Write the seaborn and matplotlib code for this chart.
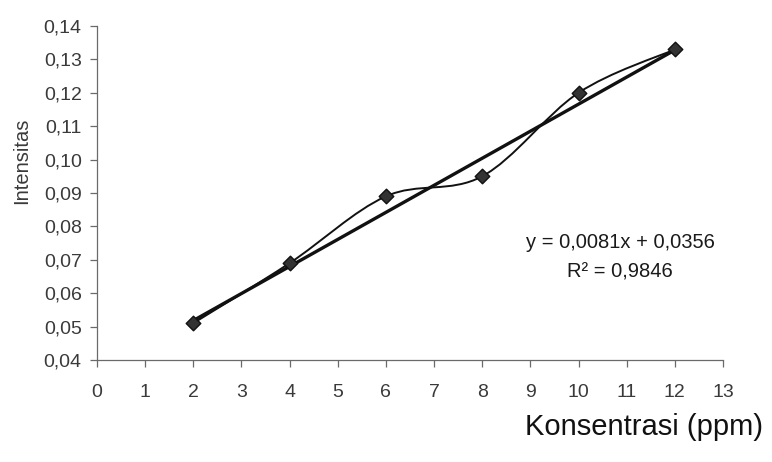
import matplotlib
matplotlib.use("Agg")
import matplotlib.pyplot as plt
from matplotlib.path import Path
from matplotlib.patches import PathPatch
import pandas as pd
import seaborn as sns

# Calibration data
konsentrasi = [2, 4, 6, 8, 10, 12]          # ppm
intensitas = [0.051, 0.069, 0.089, 0.095, 0.120, 0.133]

# Linear regression reported for the calibration
slope = 0.0081
intercept = 0.0356
r_squared = 0.9846

x_ticks = list(range(0, 14))
y_ticks = [0.04, 0.05, 0.06, 0.07, 0.08, 0.09, 0.10, 0.11, 0.12, 0.13, 0.14]
y_tick_labels = ["0,04", "0,05", "0,06", "0,07", "0,08", "0,09",
                 "0,10", "0,11", "0,12", "0,13", "0,14"]

sns.set_theme(style="ticks")
plt.rcParams["font.family"] = ["Liberation Sans", "DejaVu Sans"]

df = pd.DataFrame({"Konsentrasi": konsentrasi, "Intensitas": intensitas})

fig = plt.figure(figsize=(7.72, 4.62), dpi=100)
ax = fig.add_axes([0.1256, 0.2208, 0.8109, 0.7229])

# Smoothed connecting line through the measured points (cubic Bezier segments)
pts = list(zip(konsentrasi, intensitas))
n = len(pts)
verts = [pts[0]]
codes = [Path.MOVETO]
for i in range(n - 1):
    p0 = pts[max(i - 1, 0)]
    p1 = pts[i]
    p2 = pts[i + 1]
    p3 = pts[min(i + 2, n - 1)]
    c1 = (p1[0] + (p2[0] - p0[0]) / 6, p1[1] + (p2[1] - p0[1]) / 6)
    c2 = (p2[0] - (p3[0] - p1[0]) / 6, p2[1] - (p3[1] - p1[1]) / 6)
    verts += [c1, c2, p2]
    codes += [Path.CURVE4] * 3
ax.add_patch(PathPatch(Path(verts, codes), facecolor="none",
                       edgecolor="#111111", lw=1.4, zorder=3))

# Linear trend line from the regression equation
x_fit = [konsentrasi[0], konsentrasi[-1]]
y_fit = [slope * x + intercept for x in x_fit]
sns.lineplot(x=x_fit, y=y_fit, ax=ax, color="#111111", lw=2.4, zorder=4)

# Measured points
sns.scatterplot(data=df, x="Konsentrasi", y="Intensitas", ax=ax, marker="D",
                s=55, color="#333333", edgecolor="#111111", linewidth=1.0,
                zorder=5)

ax.set_xlim(0, 13)
ax.set_ylim(0.04, 0.14)
ax.set_xticks(x_ticks)
ax.set_xticklabels([str(v) for v in x_ticks])
ax.set_yticks(y_ticks)
ax.set_yticklabels(y_tick_labels)
ax.set_xlabel("")
ax.set_ylabel("")

for side in ("top", "right"):
    ax.spines[side].set_visible(False)
for side in ("left", "bottom"):
    ax.spines[side].set_color("#6a6a6a")
    ax.spines[side].set_linewidth(0.9)

ax.tick_params(axis="both", direction="out", length=5, width=0.9,
               color="#6a6a6a", labelsize=14, labelcolor="#3a3a3a")
ax.tick_params(axis="x", pad=12)
ax.tick_params(axis="y", pad=6)

fig.text(22 / 772, 1 - 161 / 462, "Intensitas", rotation=90,
         ha="center", va="center", fontsize=14.5, color="#3a3a3a")
fig.text(763 / 772, 1 - 435 / 462, "Konsentrasi (ppm)", ha="right",
         va="baseline", fontsize=21, color="#111111")

eq = f"y = {slope:.4f}x + {intercept:.4f}".replace(".", ",")
r2 = f"R² = {r_squared:.4f}".replace(".", ",")
fig.text(620 / 772, 1 - 243 / 462, eq, ha="center", va="center",
         fontsize=14.5, color="#1a1a1a")
fig.text(620 / 772, 1 - 272 / 462, r2, ha="center", va="center",
         fontsize=14.5, color="#1a1a1a")

fig.savefig("out.png", dpi=100)
